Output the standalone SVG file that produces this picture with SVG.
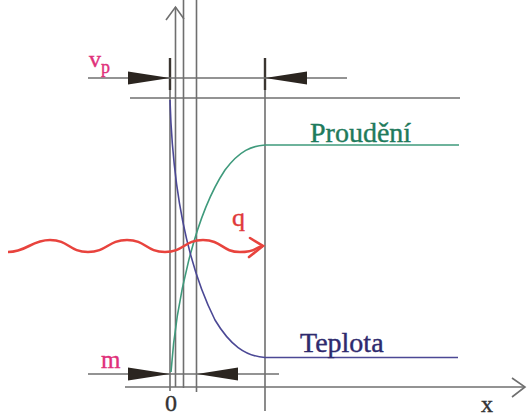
<svg xmlns="http://www.w3.org/2000/svg" width="527" height="418" viewBox="0 0 527 418">
<defs>
<style>
.ln{stroke:#6f6f6f;stroke-width:1.6;fill:none}
.thk{stroke:#3a3530;stroke-width:2.4;fill:none}
.ah{fill:#2b2520}
.lbl{font-family:"Liberation Serif","DejaVu Serif",serif;stroke-width:0.4}
</style>
</defs>
<g id="connectors">
<line class="ln" x1="170" y1="58" x2="170" y2="391"/>
<line class="ln" x1="175.5" y1="7" x2="175.5" y2="387"/>
<line class="ln" x1="183.5" y1="0" x2="183.5" y2="388"/>
<line class="ln" x1="196.5" y1="0" x2="196.5" y2="392"/>
<line class="ln" x1="265" y1="58" x2="265" y2="411"/>
<polyline class="ln" points="166,20 175.5,7 184,19"/>
<line class="thk" x1="170" y1="58" x2="170" y2="90"/>
<line class="thk" x1="265" y1="58" x2="265" y2="90"/>
<line class="ln" x1="88" y1="78" x2="347" y2="78"/>
<line class="ln" x1="130" y1="98" x2="460" y2="98"/>
<line class="ln" x1="88" y1="374" x2="279" y2="374"/>
<line class="ln" x1="125" y1="387" x2="525" y2="387"/>
<polyline class="ln" points="512,378 525,387 512,397"/>
<polygon class="ah" points="128,71.5 170,78 128,84.5"/>
<polygon class="ah" points="307,71.5 265,78 307,84.5"/>
<polygon class="ah" points="128,367.5 170,374 128,380.5"/>
<polygon class="ah" points="238,367.5 197,374 238,380.5"/>
</g>
<g id="proudeni">
<path d="M171,372 C176,300 195,215 225,170 C240,150 252,146 265,145 L459,145" fill="none" stroke="#3f9a7c" stroke-width="1.6"/>
<text class="lbl" x="310" y="142" font-size="28" fill="#1f7a5c" stroke="#1f7a5c">Proudění</text>
</g>
<g id="teplota">
<path d="M170,100 C173,200 190,270 215,320 C230,345 245,356 265,357.5 L458,357.5" fill="none" stroke="#4b4895" stroke-width="1.6"/>
<text class="lbl" x="300" y="352" font-size="28" fill="#2e2a6e" stroke="#2e2a6e">Teplota</text>
</g>
<g id="q">
<path d="M8,252 C27,252 31,240 50,240 S69,252 88,252 S108,240 127,240 S146,252 165,252 S184,240 203,240 S222,252 240,252 S254,247 263,246" fill="none" stroke="#e8433d" stroke-width="2.6"/>
<polyline points="250,238 263,246 249,257" fill="none" stroke="#e8433d" stroke-width="2.6" stroke-linecap="round"/>
<text class="lbl" x="232" y="226" font-size="26" fill="#e0393a" stroke="#e0393a" stroke-width="0.8">q</text>
</g>
<g id="vp">
<text class="lbl" x="89" y="67" font-size="24" fill="#e0307a" stroke="#e0307a">v</text>
<text class="lbl" x="101" y="73" font-size="18" fill="#e0307a" stroke="#e0307a">p</text>
</g>
<g id="m">
<text class="lbl" x="101" y="368" font-size="25" fill="#e0307a" stroke="#e0307a">m</text>
</g>
<g id="labels">
<text class="lbl" x="171" y="411" font-size="24" fill="#333" stroke="#333" text-anchor="middle">0</text>
<text class="lbl" x="481" y="412" font-size="24" fill="#333" stroke="#333">x</text>
</g>
</svg>
